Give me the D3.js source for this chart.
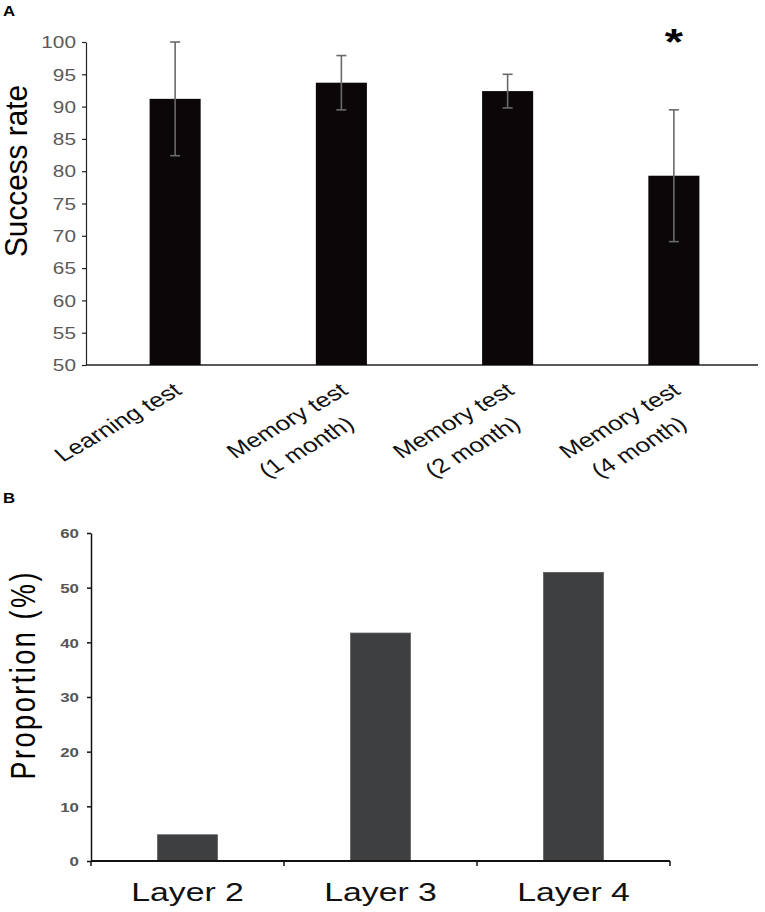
<!DOCTYPE html>
<html>
<head>
<meta charset="utf-8">
<script src="https://cdn.jsdelivr.net/npm/d3@7"></script>
<style>
  body { margin: 0; background: #fff; }
  text { font-family: "Liberation Sans", Arial, sans-serif; }
</style>
</head>
<body>
<script>
// panel A data
const testKeys = ['learning', 'mem1', 'mem2', 'mem4'];
const testLabels = [['Learning test'], ['Memory test', '(1 month)'], ['Memory test', '(2 month)'], ['Memory test', '(4 month)']];
const successRate = [91.2, 93.7, 92.4, 79.3];
const successErr = [8.8, 4.2, 2.6, 10.2];
const significant = [false, false, false, true];
const rateTicks = [50, 55, 60, 65, 70, 75, 80, 85, 90, 95, 100];

// panel B data
const layers = ['Layer 2', 'Layer 3', 'Layer 4'];
const proportion = [4.8, 41.7, 52.8];
const proportionTicks = [0, 10, 20, 30, 40, 50, 60];

const width = 765, height = 912;
const SX = 1.3; // the figure is stretched horizontally

const svg = d3.select('body').append('svg')
  .attr('width', width)
  .attr('height', height);

// ---------- panel A ----------
const xA = d3.scaleBand().domain(testKeys).range([92, 757]);
const yA = d3.scaleLinear().domain([50, 100]).range([365, 42]);
const barWA = xA.bandwidth() * 0.307;
const cxA = k => xA(k) + xA.bandwidth() / 2;

svg.append('text')
  .attr('transform', `translate(3,16) scale(1.2,1)`)
  .attr('font-size', 14).attr('font-weight', 'bold')
  .text('A');

const gyA = svg.append('g')
  .attr('transform', 'translate(86,0)')
  .call(d3.axisLeft(yA).tickValues(rateTicks).tickSize(4).tickSizeOuter(0));
gyA.selectAll('path, line').attr('stroke', '#222').attr('stroke-width', 1.2);
gyA.selectAll('.tick text')
  .attr('x', null).attr('dy', '0.36em')
  .attr('transform', `translate(-10,0) scale(${SX},1)`)
  .attr('font-size', 16).attr('fill', '#5a5a5a');

svg.append('line')
  .attr('x1', 86).attr('x2', xA.range()[1] + 1)
  .attr('y1', yA(50)).attr('y2', yA(50))
  .attr('stroke', '#222').attr('stroke-width', 1.5);

const dataA = testKeys.map((k, i) => ({ k, v: successRate[i], e: successErr[i], s: significant[i], lines: testLabels[i] }));

svg.append('g').selectAll('rect')
  .data(dataA).join('rect')
  .attr('x', d => cxA(d.k) - barWA / 2)
  .attr('y', d => yA(d.v))
  .attr('width', barWA)
  .attr('height', d => yA(50) - yA(d.v))
  .attr('fill', '#0b0607');

const err = svg.append('g').attr('stroke', '#6a6a6a').attr('stroke-width', 1.6);
err.selectAll('.stem').data(dataA).join('line')
  .attr('x1', d => cxA(d.k)).attr('x2', d => cxA(d.k))
  .attr('y1', d => yA(d.v + d.e)).attr('y2', d => yA(d.v - d.e));
err.selectAll('.capT').data(dataA).join('line')
  .attr('x1', d => cxA(d.k) - 5).attr('x2', d => cxA(d.k) + 5)
  .attr('y1', d => yA(d.v + d.e)).attr('y2', d => yA(d.v + d.e));
err.selectAll('.capB').data(dataA).join('line')
  .attr('x1', d => cxA(d.k) - 5).attr('x2', d => cxA(d.k) + 5)
  .attr('y1', d => yA(d.v - d.e)).attr('y2', d => yA(d.v - d.e));

svg.append('g').selectAll('text')
  .data(dataA.filter(d => d.s)).join('text')
  .attr('transform', d => `translate(${cxA(d.k)},${yA(100) + 13}) scale(${SX},1)`)
  .attr('text-anchor', 'middle')
  .attr('font-size', 36).attr('font-weight', 'bold')
  .text('*');

// rotated category labels
dataA.forEach(d => {
  const g = svg.append('g')
    .attr('transform', `translate(${cxA(d.k) + 8},393) scale(${SX},1) rotate(-37)`)
    .attr('font-size', 20).attr('fill', '#111');
  const t1 = g.append('text').attr('text-anchor', 'end').text(d.lines[0]);
  const w1 = t1.node().getComputedTextLength();
  d.lines.slice(1).forEach((l, j) => {
    g.append('text').attr('text-anchor', 'middle')
      .attr('x', -w1 / 2 - 4).attr('y', 30 * (j + 1))
      .text(l);
  });
});

svg.append('text')
  .attr('transform', `translate(27,171) scale(${SX},1) rotate(-90)`)
  .attr('text-anchor', 'middle')
  .attr('font-size', 24)
  .attr('textLength', 172).attr('lengthAdjust', 'spacingAndGlyphs')
  .text('Success rate');

// ---------- panel B ----------
const xB = d3.scaleBand().domain(layers).range([91, 670]);
const yB = d3.scaleLinear().domain([0, 60]).range([861, 533]);
const barWB = xB.bandwidth() * 0.31;
const cxB = k => xB(k) + xB.bandwidth() / 2;

svg.append('text')
  .attr('transform', `translate(3,503) scale(1.2,1)`)
  .attr('font-size', 14).attr('font-weight', 'bold')
  .text('B');

svg.append('g').selectAll('rect')
  .data(layers).join('rect')
  .attr('x', (d) => cxB(d) - barWB / 2)
  .attr('y', (d, i) => yB(proportion[i]))
  .attr('width', barWB)
  .attr('height', (d, i) => yB(0) - yB(proportion[i]))
  .attr('fill', '#3e3f41')
  .attr('stroke', '#5c5c5c').attr('stroke-width', 0.8);

const gyB = svg.append('g')
  .attr('transform', 'translate(91,0)')
  .call(d3.axisLeft(yB).tickValues(proportionTicks).tickSize(4).tickSizeOuter(0));
gyB.selectAll('path, line').attr('stroke', '#111').attr('stroke-width', 1.5);
gyB.selectAll('.tick text')
  .attr('x', null).attr('dy', '0.36em')
  .attr('transform', `translate(-12,0) scale(${SX},1)`)
  .attr('font-size', 13).attr('font-weight', 'bold').attr('fill', '#555');

svg.append('line')
  .attr('x1', xB.range()[0]).attr('x2', xB.range()[1])
  .attr('y1', yB(0)).attr('y2', yB(0))
  .attr('stroke', '#111').attr('stroke-width', 1.8);

// band boundary ticks
const bounds = layers.map(d => xB(d)).concat([xB.range()[1]]);
svg.append('g').selectAll('line')
  .data(bounds).join('line')
  .attr('x1', d => d).attr('x2', d => d)
  .attr('y1', yB(0)).attr('y2', yB(0) + 5)
  .attr('stroke', '#111').attr('stroke-width', 1.5);

svg.append('g').selectAll('text')
  .data(layers).join('text')
  .attr('transform', d => `translate(${cxB(d)},901) scale(${SX},1)`)
  .attr('text-anchor', 'middle')
  .attr('font-size', 26).attr('fill', '#111')
  .text(d => d);

svg.append('text')
  .attr('transform', `translate(35,676) scale(${SX},1) rotate(-90)`)
  .attr('text-anchor', 'middle')
  .attr('font-size', 27)
  .attr('textLength', 207).attr('lengthAdjust', 'spacing')
  .text('Proportion (%)');
</script>
</body>
</html>
